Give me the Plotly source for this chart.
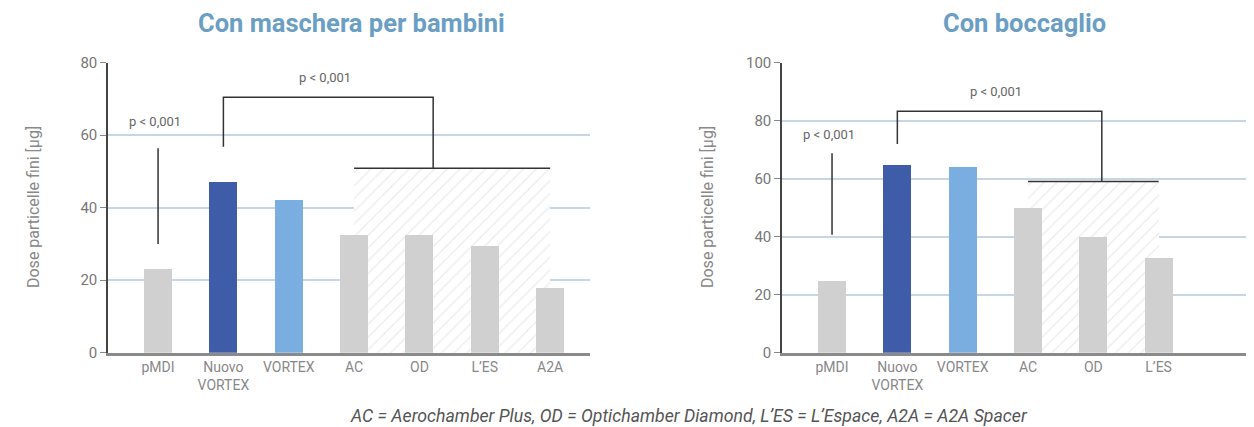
import plotly.graph_objects as go

# ---- data ----
cats_left = ["pMDI", "Nuovo<br>VORTEX", "VORTEX", "AC", "OD", "L’ES", "A2A"]
vals_left = [23.3, 47.1, 42.1, 32.5, 32.5, 29.4, 17.8]
cats_right = ["pMDI", "Nuovo<br>VORTEX", "VORTEX", "AC", "OD", "L’ES"]
vals_right = [24.7, 64.7, 64.0, 49.9, 40.1, 32.7]

colors_left = ["#d0d0d0", "#3f5ca8", "#7aaee0", "#d0d0d0", "#d0d0d0", "#d0d0d0", "#d0d0d0"]
colors_right = ["#d0d0d0", "#3f5ca8", "#7aaee0", "#d0d0d0", "#d0d0d0", "#d0d0d0"]

# significance annotations (value levels)
left_single = (30.0, 56.4)        # pMDI line from, to
left_bracket = (56.8, 70.5, 50.9)  # leg start, top, group level
left_group = (3, 6)
left_bracket_right = 4.21
left_p_single = 63.9
left_p_group = 75.8

right_single = (40.7, 68.8)
right_bracket = (72.0, 83.3, 59.0)
right_group = (3, 5)
right_bracket_right = 4.13
right_p_single = 75.4
right_p_group = 90.0

ptext = "p < 0,001"
ylabel = "Dose particelle fini [µg]"
title_left = "Con maschera per bambini"
title_right = "Con boccaglio"
footnote = "AC = Aerochamber Plus, OD = Optichamber Diamond, L’ES = L’Espace, A2A = A2A Spacer"

FONT = "Roboto"
OFF = 8  # default page body margin
W, H = 1254 - OFF, 427 - OFF


def px(x):
    return (x - OFF) / W


def py(y):
    return 1 - (y - OFF) / H


fig = go.Figure()


def add_panel(cats, vals, colors, xa, ya, single, bracket, group, br_right, p_single, p_group):
    xs = list(range(len(cats)))
    g0, g1 = group
    # hatched group background
    fig.add_trace(go.Bar(
        x=[(g0 + g1) / 2], y=[bracket[2]], width=[g1 - g0],
        marker=dict(color="white", line=dict(width=0),
                    pattern=dict(shape="/", fgcolor="#d8d8d8", bgcolor="white", size=9, solidity=0.14)),
        xaxis=xa, yaxis=ya, showlegend=False, hoverinfo="skip"))
    fig.add_trace(go.Bar(
        x=xs, y=vals, width=0.43, marker=dict(color=colors, line=dict(width=0)),
        xaxis=xa, yaxis=ya, showlegend=False))
    line = dict(color="#333333", width=1.5)
    # single line above pMDI
    fig.add_trace(go.Scatter(x=[0, 0], y=[single[0], single[1]], mode="lines", line=line,
                             xaxis=xa, yaxis=ya, showlegend=False, hoverinfo="skip"))
    # bracket
    fig.add_trace(go.Scatter(
        x=[1, 1, br_right, br_right], y=[bracket[0], bracket[1], bracket[1], bracket[2]],
        mode="lines", line=line, xaxis=xa, yaxis=ya, showlegend=False, hoverinfo="skip"))
    fig.add_trace(go.Scatter(x=[g0, g1], y=[bracket[2], bracket[2]], mode="lines", line=line,
                             xaxis=xa, yaxis=ya, showlegend=False, hoverinfo="skip"))
    # p texts
    fig.add_annotation(x=-0.05, y=p_single, xref=xa, yref=ya, text=ptext, showarrow=False,
                       font=dict(family=FONT, size=13, color="#666666"))
    fig.add_annotation(x=(1 + br_right) / 2 - 0.05, y=p_group, xref=xa, yref=ya, text=ptext, showarrow=False,
                       font=dict(family=FONT, size=13, color="#666666"))


add_panel(cats_left, vals_left, colors_left, "x", "y", left_single, left_bracket, left_group,
          left_bracket_right, left_p_single, left_p_group)
add_panel(cats_right, vals_right, colors_right, "x2", "y2", right_single, right_bracket, right_group,
          right_bracket_right, right_p_single, right_p_group)

ydom = [py(352.7), py(62.7)]

xcommon = dict(showgrid=False, zeroline=False, showline=True, linecolor="#8a8a8a", linewidth=2.5,
               ticks="", tickfont=dict(family=FONT, size=14, color="#888888"), fixedrange=True,
               automargin=False)
ycommon = dict(showgrid=True, gridcolor="#c6d6e5", gridwidth=1.5, zeroline=False, showline=True,
               linecolor="#444444", linewidth=1.5, ticks="outside", ticklen=6, tickcolor="#888888",
               tickwidth=1, tickfont=dict(family=FONT, size=15, color="#777777"), fixedrange=True,
               automargin=False)

fig.update_layout(
    width=W, height=H, margin=dict(l=0, r=0, t=0, b=0, autoexpand=False),
    paper_bgcolor="white", plot_bgcolor="white", barmode="overlay", bargap=0,
    xaxis=dict(domain=[px(108), px(590)], range=[-0.766, 6.61], tickvals=list(range(len(cats_left))),
               ticktext=cats_left, anchor="y", **xcommon),
    yaxis=dict(domain=ydom, range=[0, 80], tickvals=[0, 20, 40, 60, 80], anchor="x", **ycommon),
    xaxis2=dict(domain=[px(782), 1.0], range=[-0.766, 6.46], tickvals=list(range(len(cats_right))),
                ticktext=cats_right, anchor="y2", **xcommon),
    yaxis2=dict(domain=ydom, range=[0, 100], tickvals=[0, 20, 40, 60, 80, 100], anchor="x2", **ycommon),
)

title_font = dict(family=FONT, size=25.5, color="#6b9ec4", weight="bold")
fig.add_annotation(x=px(351), y=py(23), xref="paper", yref="paper", text=title_left,
                   showarrow=False, font=title_font, xanchor="center", yanchor="middle")
fig.add_annotation(x=px(1024), y=py(23), xref="paper", yref="paper", text=title_right,
                   showarrow=False, font=title_font, xanchor="center", yanchor="middle")

for xp in (33, 707):
    fig.add_annotation(x=px(xp), y=py(207), xref="paper", yref="paper", text=ylabel,
                       textangle=-90, showarrow=False, xanchor="center", yanchor="middle",
                       font=dict(family=FONT, size=16, color="#888888"))

fig.add_annotation(x=px(689), y=py(416), xref="paper", yref="paper",
                   text="<i>" + footnote + "</i>", showarrow=False, xanchor="center", yanchor="middle",
                   font=dict(family=FONT, size=17.7, color="#555555"))

fig.write_html("out.html")
